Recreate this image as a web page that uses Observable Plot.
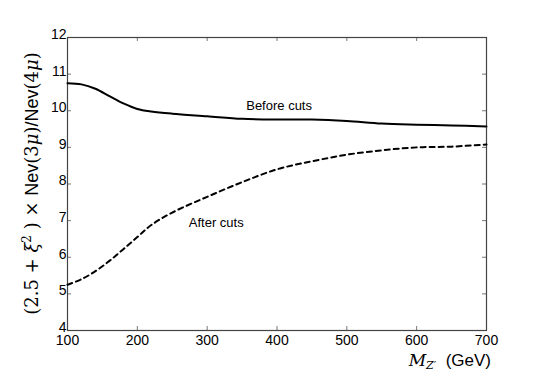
<!DOCTYPE html>
<html>
<head>
<meta charset="utf-8">
<script src="https://cdn.jsdelivr.net/npm/d3@7"></script>
<script src="https://cdn.jsdelivr.net/npm/@observablehq/plot@0.6"></script>
<style>
html,body{margin:0;padding:0;background:#fff;}
svg{display:block;}
</style>
</head>
<body>
<div id="chart"></div>
<script>
const mass = [100, 120, 140, 160, 180, 200, 220, 250, 300, 350, 400, 450, 500, 550, 600, 650, 700];
const beforeCuts = [10.75, 10.72, 10.6, 10.4, 10.2, 10.05, 9.98, 9.92, 9.85, 9.78, 9.76, 9.76, 9.72, 9.65, 9.62, 9.6, 9.57];
const afterCuts = [5.25, 5.4, 5.62, 5.9, 6.22, 6.55, 6.88, 7.22, 7.65, 8.05, 8.4, 8.62, 8.8, 8.92, 9.0, 9.02, 9.08];
const xTicks = [100, 200, 300, 400, 500, 600, 700];
const yTicks = [4, 5, 6, 7, 8, 9, 10, 11, 12];
const curveLabels = [
  {text: "Before cuts", x: 403, y: 10.13},
  {text: "After cuts", x: 313, y: 6.93}
];

const before = mass.map((m, i) => ({m, v: beforeCuts[i]}));
const after = mass.map((m, i) => ({m, v: afterCuts[i]}));

const W = 540, H = 378;
const mL = 67, mR = 54, mT = 37, mB = 48;
const pw = W - mL - mR, ph = H - mT - mB;
const tk = 4;

const plot = Plot.plot({
  width: W,
  height: H,
  marginLeft: mL,
  marginRight: mR,
  marginTop: mT,
  marginBottom: mB,
  style: {fontFamily: "Liberation Sans, Arial, sans-serif", fontSize: "14px", color: "#000", background: "#fff"},
  x: {domain: [100, 700], ticks: xTicks, label: null},
  y: {domain: [4, 12], ticks: yTicks, label: null},
  marks: [
    Plot.tickX(xTicks, {x: d => d, insetTop: ph - tk, stroke: "#777"}),
    Plot.tickX(xTicks, {x: d => d, insetBottom: ph - tk, stroke: "#777"}),
    Plot.tickY(yTicks, {y: d => d, insetRight: pw - tk, stroke: "#777"}),
    Plot.tickY(yTicks, {y: d => d, insetLeft: pw - tk, stroke: "#777"}),
    Plot.frame({stroke: "#444", strokeWidth: 1.2}),
    Plot.axisX(xTicks, {tickSize: 0, tickPadding: 5, fontSize: 14, fill: "#000"}),
    Plot.axisY(yTicks, {tickSize: 0, tickPadding: 1, dy: -3, fontSize: 14, fill: "#000"}),
    Plot.line(before, {x: "m", y: "v", stroke: "#000", strokeWidth: 2, curve: "catmull-rom"}),
    Plot.line(after, {x: "m", y: "v", stroke: "#000", strokeWidth: 2, strokeDasharray: "5,4", curve: "catmull-rom"}),
    Plot.text(curveLabels, {x: "x", y: "y", text: "text", fontSize: 13, fill: "#000"})
  ]
});

document.getElementById("chart").appendChild(plot);

const svg = d3.select(plot);
const serif = "DejaVu Serif, Liberation Serif, serif";
const sans = "Liberation Sans, Arial, sans-serif";

// Y-axis title
const yt = svg.append("text")
  .attr("transform", `translate(38, ${mT + ph / 2}) rotate(-90)`)
  .attr("text-anchor", "middle")
  .attr("font-size", 18)
  .attr("fill", "#000");
const ySeg = [
  ["(2.5 + ", serif, "normal", 0],
  ["ξ", serif, "italic", 0],
  ["2", serif, "normal", -7],
  [" ) × ", serif, "normal", 7],
  ["Nev", sans, "normal", 0],
  ["(3", serif, "normal", 0],
  ["μ", serif, "italic", 0],
  [")", serif, "normal", 0],
  ["/Nev", sans, "normal", 0],
  ["(4", serif, "normal", 0],
  ["μ", serif, "italic", 0],
  [")", serif, "normal", 0]
];
ySeg.forEach(([t, f, s, dy]) => {
  const ts = yt.append("tspan").attr("font-family", f).attr("font-style", s).text(t);
  if (dy) ts.attr("dy", dy);
  if (t === "2") ts.attr("font-size", 12);
});

// X-axis title
const xt = svg.append("text")
  .attr("x", W - mR + 5)
  .attr("y", 366)
  .attr("text-anchor", "end")
  .attr("font-size", 17)
  .attr("fill", "#000");
xt.append("tspan").attr("font-family", serif).attr("font-style", "italic").text("M");
xt.append("tspan").attr("font-family", serif).attr("font-style", "italic").attr("font-size", 11).attr("dy", 3).text("Z′");
xt.append("tspan").attr("font-family", sans).attr("dy", -3).text("  (GeV)");
</script>
</body>
</html>
